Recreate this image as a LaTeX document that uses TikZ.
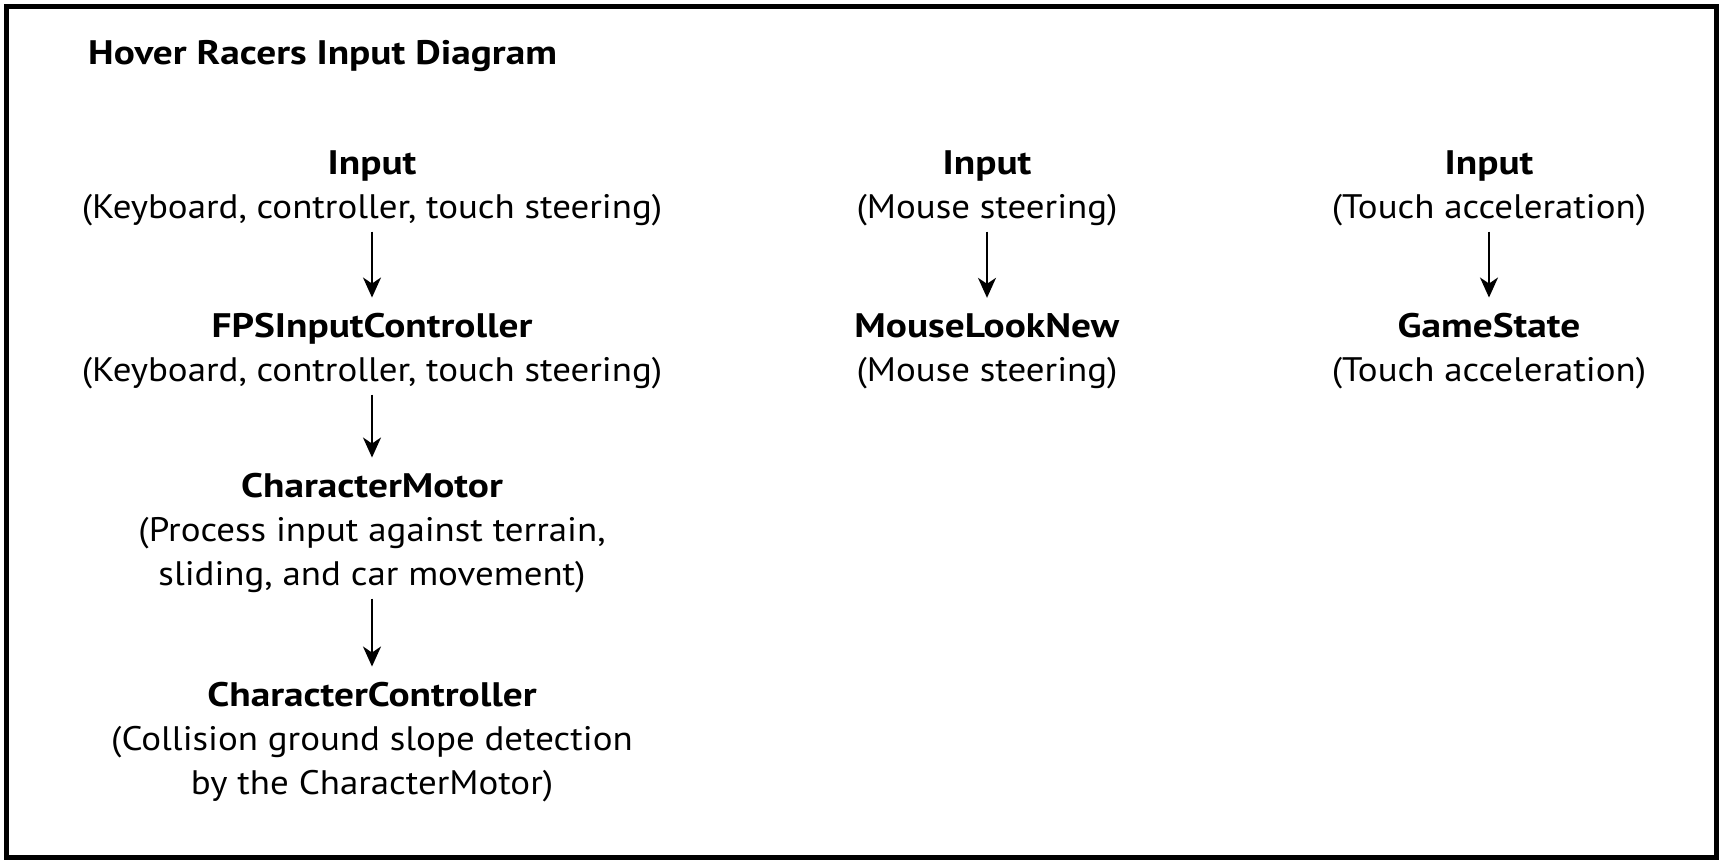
\documentclass[tikz,border=0pt]{standalone}
\usepackage{fontspec}
\setmainfont{PT Sans}[FakeStretch=1.086, BoldFeatures={FakeStretch=1.157}]
\usetikzlibrary{arrows.meta}
\begin{document}
\begin{tikzpicture}[x=1pt,y=-1pt,
  blk/.style={font=\fontsize{34}{44}\selectfont, align=center, inner sep=0pt, anchor=base},
  ttl/.style={font=\fontsize{34}{44}\selectfont\bfseries, inner sep=0pt, anchor=base west},
  arr/.style={-{Stealth[length=20pt,width=18pt,inset=6pt]}, line width=2pt, shorten <=6pt, shorten >=15pt},
  frame/.style={line width=5pt}]
\useasboundingbox (0,0) rectangle (1725,865);
\draw[frame] (6,6.5) rectangle (1716,857);
\node[ttl] (title) at (88,64) {Hover Racers Input Diagram};
% column 1
\node[blk] (in1) at (372,218) {\textbf{Input}\\(Keyboard, controller, touch steering)};
\node[blk] (fps) at (372,381) {\textbf{FPSInputController}\\(Keyboard, controller, touch steering)};
\node[blk] (cm) at (372,585) {\textbf{CharacterMotor}\\(Process input against terrain,\\sliding, and car movement)};
\node[blk] (cc) at (372,794) {\textbf{CharacterController}\\(Collision ground slope detection\\by the CharacterMotor)};
% column 2
\node[blk] (in2) at (987,218) {\textbf{Input}\\(Mouse steering)};
\node[blk] (ml) at (987,381) {\textbf{MouseLookNew}\\(Mouse steering)};
% column 3
\node[blk] (in3) at (1489,218) {\textbf{Input}\\(Touch acceleration)};
\node[blk] (gs) at (1489,381) {\textbf{GameState}\\(Touch acceleration)};
\draw[arr] (in1) -- (fps);
\draw[arr] (fps) -- (cm);
\draw[arr] (cm) -- (cc);
\draw[arr] (in2) -- (ml);
\draw[arr] (in3) -- (gs);
\end{tikzpicture}
\end{document}
